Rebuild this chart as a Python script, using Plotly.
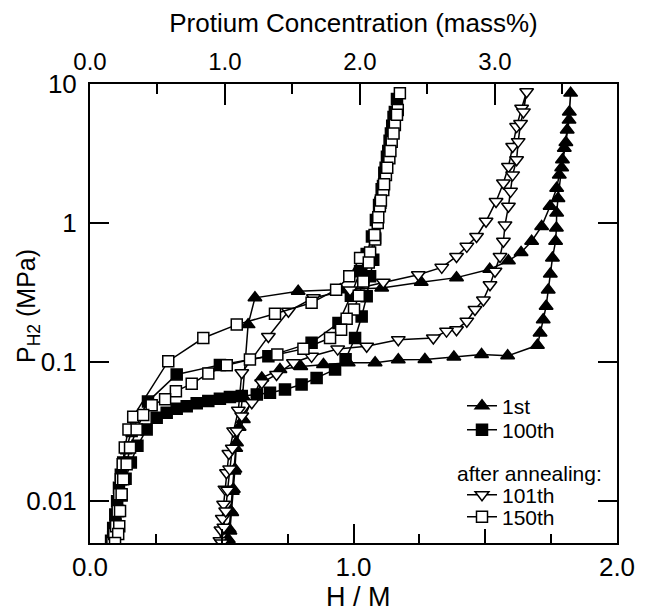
import plotly.graph_objects as go

# ---------------- data (H/M, P in MPa) ----------------
# 1st cycle (filled triangles)
hm_1st_abs = [0.522, 0.528, 0.534, 0.540, 0.546, 0.553, 0.566, 0.579, 0.600, 0.626, 0.790, 0.950,
              1.107, 1.257, 1.391, 1.517, 1.588, 1.636, 1.676, 1.714, 1.746, 1.771, 1.781, 1.793,
              1.800, 1.811, 1.819, 1.824]
p_1st_abs = [0.0053, 0.0063, 0.0085, 0.0118, 0.0165, 0.024, 0.034, 0.057, 0.186, 0.29, 0.323, 0.332,
             0.341, 0.375, 0.405, 0.465, 0.535, 0.615, 0.74, 0.946, 1.32, 1.78, 2.22, 2.85,
             3.45, 4.67, 6.3, 8.6]
hm_1st_des = [1.818, 1.806, 1.790, 1.776, 1.771, 1.770, 1.767, 1.755, 1.747, 1.739, 1.731, 1.720,
              1.708, 1.698, 1.585, 1.486, 1.381, 1.271, 1.170, 1.082, 0.980, 0.886, 0.800, 0.721,
              0.652, 0.582, 0.556, 0.550, 0.544, 0.538, 0.531, 0.525]
p_1st_des = [5.5, 3.8, 2.5, 1.5, 1.18, 0.92, 0.74, 0.56, 0.43, 0.33, 0.252, 0.202,
             0.162, 0.132, 0.111, 0.1135, 0.109, 0.1044, 0.104, 0.099, 0.099, 0.096, 0.093, 0.0885,
             0.077, 0.0387, 0.0263, 0.017, 0.0122, 0.0083, 0.0061, 0.0053]

# 100th cycle (filled squares)
hm_100_abs = [0.080, 0.088, 0.096, 0.103, 0.110, 0.117, 0.126, 0.138, 0.158, 0.220, 0.329, 0.493,
              0.677, 0.841, 0.943, 0.990, 1.025, 1.050, 1.070, 1.085, 1.097, 1.107, 1.117, 1.127,
              1.137, 1.147, 1.157, 1.165]
p_100_abs = [0.0052, 0.0064, 0.0080, 0.0100, 0.0125, 0.0155, 0.019, 0.024, 0.032, 0.052, 0.0815, 0.0955,
             0.110, 0.138, 0.191, 0.30, 0.45, 0.60, 0.80, 1.05, 1.35, 1.75, 2.3, 3.0,
             3.9, 5.0, 6.3, 7.8]
hm_100_des = [1.152, 1.142, 1.132, 1.122, 1.112, 1.102, 1.092, 1.082, 1.075, 1.063, 1.050, 1.031,
              1.006, 0.970, 0.930, 0.860, 0.803, 0.740, 0.683, 0.633, 0.576, 0.531, 0.493, 0.449,
              0.405, 0.367, 0.329, 0.291, 0.253, 0.215, 0.180, 0.155, 0.135, 0.120, 0.108, 0.097,
              0.088]
p_100_des = [5.8, 4.4, 3.3, 2.5, 1.85, 1.4, 1.05, 0.78, 0.545, 0.414, 0.297, 0.213,
             0.149, 0.105, 0.0885, 0.077, 0.069, 0.0635, 0.0601, 0.0585, 0.057, 0.0561, 0.0545, 0.0524,
             0.0505, 0.0482, 0.0462, 0.0433, 0.0398, 0.0328, 0.025, 0.019, 0.0145, 0.011, 0.0085, 0.0068,
             0.0055]

# 101th cycle, after annealing (open down-triangles)
hm_101_abs = [0.493, 0.497, 0.502, 0.507, 0.512, 0.518, 0.527, 0.545, 0.563, 0.576, 0.677, 0.753,
              0.848, 0.987, 1.113, 1.246, 1.335, 1.391, 1.430, 1.467, 1.503, 1.541, 1.569, 1.588,
              1.604, 1.619, 1.638, 1.657]
p_101_abs = [0.0052, 0.0062, 0.0075, 0.0095, 0.0122, 0.016, 0.022, 0.032, 0.045, 0.0838, 0.153, 0.232,
             0.29, 0.33, 0.375, 0.425, 0.48, 0.575, 0.68, 0.80, 1.03, 1.43, 1.94, 2.55,
             3.55, 4.94, 6.7, 8.8]
hm_101_des = [1.645, 1.634, 1.625, 1.619, 1.604, 1.596, 1.588, 1.575, 1.569, 1.556, 1.537, 1.518,
              1.493, 1.461, 1.430, 1.391, 1.353, 1.303, 1.170, 1.050, 0.940, 0.841, 0.772, 0.708,
              0.652, 0.614, 0.576, 0.557, 0.540, 0.530, 0.522, 0.515, 0.508, 0.500]
p_101_des = [6.3, 5.2, 3.85, 2.85, 2.22, 1.69, 1.32, 0.97, 0.74, 0.575, 0.45, 0.36,
             0.28, 0.239, 0.197, 0.171, 0.167, 0.149, 0.145, 0.13, 0.124, 0.110, 0.099, 0.0815,
             0.071, 0.051, 0.041, 0.032, 0.024, 0.017, 0.012, 0.0085, 0.0065, 0.0050]

# 150th cycle, after annealing (open squares)
hm_150_abs = [0.085, 0.092, 0.099, 0.105, 0.111, 0.117, 0.124, 0.132, 0.146, 0.164, 0.297, 0.430,
              0.557, 0.702, 0.841, 0.934, 0.984, 1.025, 1.063, 1.082, 1.092, 1.100, 1.113, 1.123,
              1.136, 1.145, 1.157, 1.168, 1.176]
p_150_abs = [0.0050, 0.0058, 0.0066, 0.0085, 0.0112, 0.0144, 0.0184, 0.0243, 0.0328, 0.0405, 0.1015, 0.149,
             0.186, 0.223, 0.267, 0.332, 0.414, 0.56, 0.615, 0.76, 1.0, 1.32, 1.73, 2.22,
             2.93, 3.85, 5.08, 6.5, 8.58]
hm_150_des = [1.165, 1.152, 1.140, 1.128, 1.116, 1.104, 1.094, 1.080, 1.058, 1.037, 1.020, 1.002,
              0.974, 0.953, 0.911, 0.810, 0.711, 0.607, 0.519, 0.449, 0.386, 0.326, 0.285, 0.234,
              0.202, 0.177, 0.152, 0.139, 0.126, 0.120, 0.114, 0.111, 0.107, 0.095]
p_150_des = [6.0, 4.4, 3.3, 2.5, 1.9, 1.45, 1.1, 0.82, 0.52, 0.38, 0.30, 0.239,
             0.205, 0.171, 0.149, 0.1245, 0.1135, 0.1045, 0.095, 0.0828, 0.0698, 0.0618, 0.054, 0.049,
             0.0416, 0.0328, 0.0243, 0.0184, 0.0144, 0.0112, 0.0085, 0.0066, 0.0058, 0.0050]

x_ticks = [0, 1, 2]
x_ticktext = ["0.0", "1.0", "2.0"]
x_mid_ticks = [0.5, 1.5]
mass_ticks = [0, 1, 2, 3]
mass_ticktext = ["0.0", "1.0", "2.0", "3.0"]
y_ticks = [0.01, 0.1, 1, 10]
y_ticktext = ["0.01", "0.1", "1", "10"]

FONT = "Liberation Sans, Arial, Helvetica, sans-serif"

fig = go.Figure()

series = [
    ("1st", hm_1st_abs + hm_1st_des, p_1st_abs + p_1st_des, "triangle-up", "black", "legend"),
    ("100th", hm_100_abs + hm_100_des, p_100_abs + p_100_des, "square", "black", "legend2"),
    ("101th", hm_101_abs + hm_101_des, p_101_abs + p_101_des, "triangle-down", "white", "legend3"),
    ("150th", hm_150_abs + hm_150_des, p_150_abs + p_150_des, "square", "white", "legend4"),
]

for name, xs, ys, sym, fill, leg in series:
    size = 12 if "triangle" in sym else 11
    fig.add_trace(go.Scatter(
        x=xs, y=ys, name=name, mode="lines+markers",
        line=dict(color="black", width=1.5),
        marker=dict(symbol=sym, size=size, color=fill, line=dict(color="black", width=1.5)),
        legend=leg,
    ))

# dummy (empty) traces so the overlay axes are rendered
fig.add_trace(go.Scatter(x=[], y=[], xaxis="x2", showlegend=False, hoverinfo="skip"))
fig.add_trace(go.Scatter(x=[], y=[], xaxis="x3", showlegend=False, hoverinfo="skip"))

axis_common = dict(showgrid=False, zeroline=False, linecolor="black", linewidth=2,
                   tickcolor="black", tickwidth=2, ticks="inside", automargin=False)

# page has an 8px body margin: figure starts at screen (8, 8)
OFF = 8
PLOT_L, PLOT_T, PLOT_W, PLOT_H = 90, 84, 527, 459   # screen pixels
FIG_W, FIG_H = 652 - OFF, 611 - OFF


def py(ypix):
    return (PLOT_T + PLOT_H - ypix) / PLOT_H


def px(xpix):
    return (xpix - PLOT_L) / PLOT_W


leg_common = dict(bgcolor="rgba(0,0,0,0)", font=dict(size=21, family=FONT, color="black"),
                  xanchor="left", yanchor="middle", x=px(462))

fig.update_layout(
    width=FIG_W, height=FIG_H,
    margin=dict(l=PLOT_L - OFF, r=FIG_W - (PLOT_L - OFF) - PLOT_W,
                t=PLOT_T - OFF, b=FIG_H - (PLOT_T - OFF) - PLOT_H),
    paper_bgcolor="white", plot_bgcolor="white",
    font=dict(family=FONT, color="black"),
    showlegend=True,
    legend=dict(y=py(406), **leg_common),
    legend2=dict(y=py(430), **leg_common),
    legend3=dict(y=py(495), **leg_common),
    legend4=dict(y=py(517), **leg_common),
    xaxis=dict(range=[0, 2], tickvals=x_ticks, ticktext=x_ticktext, ticklen=19,
               showline=True, mirror=True, tickfont=dict(size=26),
               ticklabelstandoff=0,
               minor=dict(dtick=0.25, tick0=0, ticklen=9, ticks="inside", tickwidth=2, tickcolor="black"),
               **axis_common),
    xaxis3=dict(range=[0, 2], overlaying="x", side="bottom", tickvals=x_mid_ticks,
                ticklen=14, showline=False, showticklabels=False,
                **{k: v for k, v in axis_common.items() if k not in ("linecolor", "linewidth")}),
    xaxis2=dict(range=[0, 3.905], overlaying="x", side="top", tickvals=mass_ticks,
                ticktext=mass_ticktext, ticklen=21, showline=True, tickfont=dict(size=24),
                ticklabelstandoff=2,
                minor=dict(dtick=0.5, tick0=0, ticklen=10, ticks="inside", tickwidth=2, tickcolor="black"),
                title=dict(text="Protium Concentration (mass%)", font=dict(size=26), standoff=9),
                **axis_common),
    yaxis=dict(type="log", range=[-2.301, 1], tickvals=y_ticks, ticktext=y_ticktext, ticklen=19,
               showline=True, mirror="ticks", tickfont=dict(size=26), ticklabelstandoff=6,
               **axis_common),
    annotations=[
        dict(text="after annealing:", x=px(455), y=py(473), xref="paper", yref="paper",
             xanchor="left", yanchor="middle", showarrow=False,
             font=dict(size=21, family=FONT, color="black")),
        dict(text="P<sub>H2</sub> (MPa)", x=px(28), y=py(306), xref="paper", yref="paper",
             xanchor="center", yanchor="middle", textangle=-90, showarrow=False,
             font=dict(size=25, family=FONT, color="black")),
        dict(text="H / M", x=px(358), y=py(597), xref="paper", yref="paper",
             xanchor="center", yanchor="middle", showarrow=False,
             font=dict(size=27, family=FONT, color="black")),
    ],
)

fig.write_html("out.html")
